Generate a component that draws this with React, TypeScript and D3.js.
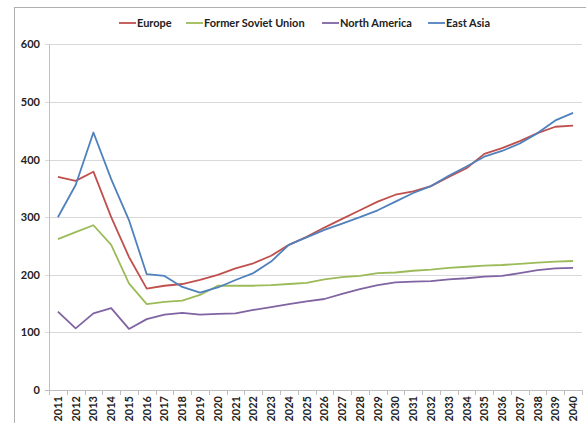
import React, { useEffect, useRef } from 'react'
import * as d3 from 'd3'

const years = d3.range(2011, 2041).map(String)

const europe = [370, 363, 379, 300, 231, 176, 181, 184, 191, 200, 211, 220, 233, 252, 266, 282, 297, 312, 327, 339, 345, 354, 370, 385, 410, 420, 432, 446, 457, 459]
const fsu = [262, 274, 286, 252, 185, 149, 153, 155, 165, 181, 181, 181, 182, 184, 186, 192, 196, 198, 203, 204, 207, 209, 212, 214, 216, 217, 219, 221, 223, 224]
const northAmerica = [136, 107, 133, 142, 106, 123, 131, 134, 131, 132, 133, 139, 144, 149, 154, 158, 167, 175, 182, 187, 188, 189, 192, 194, 197, 198, 203, 208, 211, 212]
const eastAsia = [300, 356, 447, 366, 295, 201, 198, 179, 169, 178, 191, 203, 223, 252, 265, 278, 289, 300, 312, 327, 342, 354, 372, 388, 405, 415, 428, 446, 468, 481]

const seriesNames = ['Europe', 'Former Soviet Union', 'North America', 'East Asia']
const seriesData = [europe, fsu, northAmerica, eastAsia]
const colors = ['#C0504D', '#9BBB59', '#8064A2', '#4F81BD']
const yTicks = [0, 100, 200, 300, 400, 500, 600]

const W = 586
const H = 423
const font = 'Lato, "Open Sans", sans-serif'

function Chart() {
  const ref = useRef<SVGSVGElement>(null)

  useEffect(() => {
    const svg = d3.select(ref.current)
    svg.selectAll('*').remove()

    const left = 49, right = 582, top = 44.4, bottom = 390

    // chart frame
    svg.append('rect')
      .attr('x', 14.5).attr('y', 7.5)
      .attr('width', 700).attr('height', 500)
      .attr('fill', '#fff').attr('stroke', '#b0b0b0')

    const x = d3.scaleBand().domain(years).range([left, right])
    const y = d3.scaleLinear().domain([0, 600]).range([bottom, top])

    // gridlines
    svg.append('g')
      .selectAll('line')
      .data(yTicks.filter(d => d > 0))
      .enter()
      .append('line')
      .attr('x1', left - 4).attr('x2', right)
      .attr('y1', d => Math.round(y(d)) + 0.5)
      .attr('y2', d => Math.round(y(d)) + 0.5)
      .attr('stroke', '#d9d9d9')

    // y axis
    svg.append('line')
      .attr('x1', left + 0.5).attr('x2', left + 0.5)
      .attr('y1', top).attr('y2', bottom)
      .attr('stroke', '#bfbfbf')

    svg.append('g')
      .selectAll('text')
      .data(yTicks)
      .enter()
      .append('text')
      .attr('x', 40)
      .attr('y', d => y(d) + 4)
      .attr('text-anchor', 'end')
      .attr('font-family', font)
      .attr('font-weight', 'bold')
      .attr('font-size', 11)
      .attr('fill', '#222')
      .text(d => d)

    // x axis
    svg.append('line')
      .attr('x1', left - 4).attr('x2', right)
      .attr('y1', Math.round(bottom) + 0.5).attr('y2', Math.round(bottom) + 0.5)
      .attr('stroke', '#bfbfbf')

    const bounds = years.map(d => x(d) as number).concat([right])
    svg.append('g')
      .selectAll('line')
      .data(bounds)
      .enter()
      .append('line')
      .attr('x1', d => Math.round(d) + 0.5).attr('x2', d => Math.round(d) + 0.5)
      .attr('y1', bottom).attr('y2', bottom + 5)
      .attr('stroke', '#bfbfbf')

    svg.append('g')
      .selectAll('text')
      .data(years)
      .enter()
      .append('text')
      .attr('transform', d => 'translate(' + ((x(d) as number) + x.bandwidth() / 2 + 4) + ',' + 396 + ') rotate(-90)')
      .attr('text-anchor', 'end')
      .attr('font-family', font)
      .attr('font-weight', 'bold')
      .attr('font-size', 11)
      .attr('fill', '#222')
      .text(d => d)

    // lines
    const line = d3.line<number>()
      .x((d, i) => (x(years[i]) as number) + x.bandwidth() / 2)
      .y(d => y(d))

    seriesData.forEach((s, i) => {
      svg.append('path')
        .datum(s)
        .attr('d', line)
        .attr('fill', 'none')
        .attr('stroke', colors[i])
        .attr('stroke-width', 1.8)
        .attr('stroke-linejoin', 'round')
    })

    // legend
    const legendX = [119, 186, 322, 428]
    const lg = svg.append('g')
    seriesNames.forEach((name, i) => {
      lg.append('line')
        .attr('x1', legendX[i]).attr('x2', legendX[i] + 17)
        .attr('y1', 23).attr('y2', 23)
        .attr('stroke', colors[i]).attr('stroke-width', 1.8)
      lg.append('text')
        .attr('x', legendX[i] + 18)
        .attr('y', 27)
        .attr('font-family', font)
        .attr('font-weight', 'bold')
        .attr('font-size', 11)
        .attr('fill', '#222')
        .text(name)
    })
  }, [])

  return <svg ref={ref} width={W} height={H} style={{ display: 'block' }} />
}

export default function App() {
  return (
    <div style={{ position: 'absolute', left: 0, top: 0, width: W, height: H, overflow: 'hidden', background: '#fff' }}>
      <Chart />
    </div>
  )
}
